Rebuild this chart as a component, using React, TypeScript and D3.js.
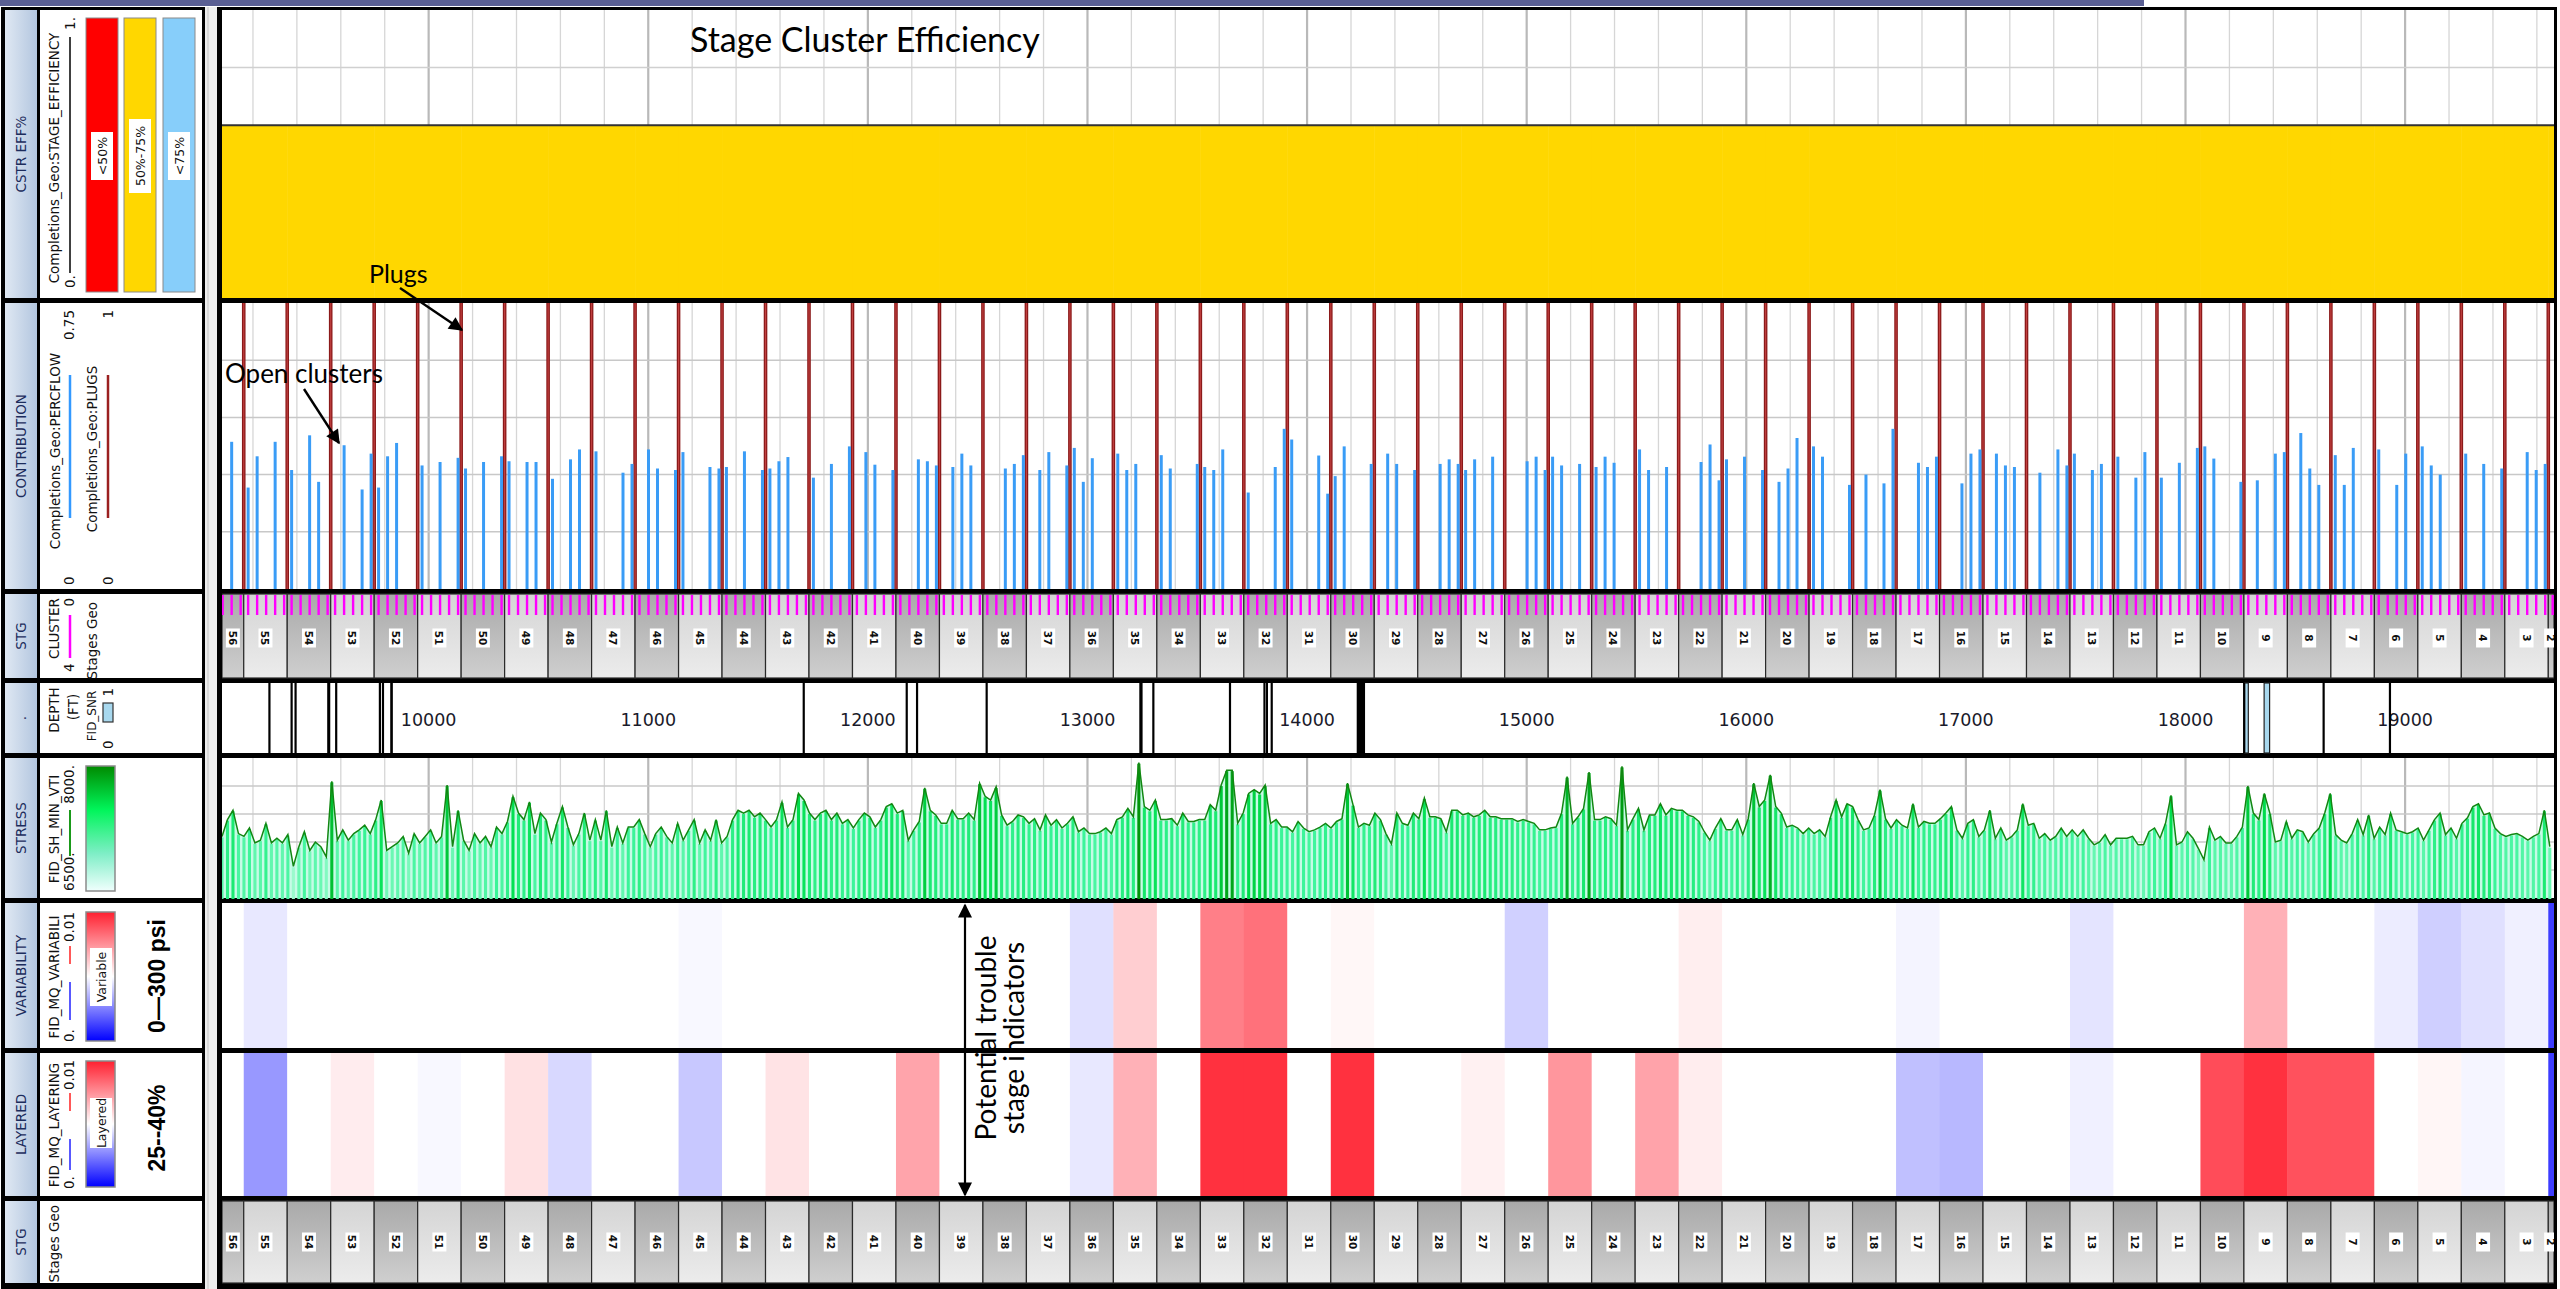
import React from "react";
import * as d3 from "d3";

// ---- data ----
const stageNames = [56, 55, 54, 53, 52, 51, 50, 49, 48, 47, 46, 45, 44, 43, 42, 41, 40, 39, 38, 37, 36, 35, 34, 33, 32, 31, 30, 29, 28, 27, 26, 25, 24, 23, 22, 21, 20, 19, 18, 17, 16, 15, 14, 13, 12, 11, 10, 9, 8, 7, 6, 5, 4, 3, 2];
// depth (ft) of the plug at the top of each stage
const stageTops = [8960, 9158, 9356, 9554, 9752, 9950, 10148, 10346, 10544, 10742, 10940, 11138, 11336, 11534, 11732, 11930, 12128, 12326, 12524, 12722, 12920, 13118, 13316, 13514, 13712, 13910, 14108, 14306, 14504, 14702, 14900, 15098, 15296, 15494, 15692, 15890, 16088, 16286, 16484, 16682, 16880, 17078, 17276, 17474, 17672, 17870, 18068, 18266, 18464, 18662, 18860, 19058, 19256, 19454, 19652];
const stageBase = 19850;
const clusterOffsets = [20, 61, 102, 143, 184]; // ft below the plug

const stageEfficiency = [0.6, 0.6, 0.6, 0.6, 0.6, 0.6, 0.6, 0.6, 0.6, 0.6, 0.6, 0.6, 0.6, 0.6, 0.6, 0.6, 0.6, 0.6, 0.6, 0.6, 0.6, 0.6, 0.6, 0.6, 0.6, 0.6, 0.6, 0.6, 0.6, 0.6, 0.6, 0.6, 0.6, 0.6, 0.6, 0.6, 0.6, 0.6, 0.6, 0.6, 0.6, 0.6, 0.6, 0.6, 0.6, 0.6, 0.6, 0.6, 0.6, 0.6, 0.6, 0.6, 0.6, 0.6, 0.6];

// PERCFLOW per cluster (0 = closed), stage 56 -> 2
const clusterFlow = [
  [0, 0, 0, 0.386, 0], [0.266, 0.348, 0, 0.386, 0], [0.312, 0, 0.403, 0.281, 0], [0, 0.377, 0, 0.261, 0.355],
  [0.266, 0.348, 0.383, 0, 0], [0.324, 0, 0.333, 0, 0.344], [0.316, 0, 0.333, 0, 0.348], [0.335, 0, 0.333, 0.333, 0],
  [0.289, 0, 0.34, 0.366, 0], [0.361, 0, 0, 0.305, 0.328], [0, 0.366, 0.316, 0, 0.312], [0.359, 0, 0, 0.32, 0.316],
  [0.32, 0, 0.361, 0, 0.312], [0.316, 0.335, 0.346, 0, 0], [0.292, 0, 0.328, 0, 0.374], [0, 0.359, 0.326, 0, 0.312],
  [0, 0, 0.34, 0.335, 0.324], [0, 0.32, 0.355, 0.324, 0], [0, 0, 0.316, 0.328, 0.351], [0, 0.312, 0.359, 0, 0.324],
  [0.37, 0.281, 0.343, 0, 0], [0.355, 0.312, 0.328, 0, 0], [0.351, 0.316, 0, 0, 0.328], [0.32, 0.312, 0.366, 0, 0],
  [0.253, 0, 0, 0.32, 0.42], [0.392, 0, 0, 0.35, 0.25], [0.296, 0.374, 0, 0, 0.328], [0, 0.355, 0.328, 0, 0.312],
  [0, 0, 0.328, 0.34, 0.328], [0.312, 0.34, 0, 0.347, 0], [0, 0, 0.335, 0.347, 0.312], [0.347, 0.324, 0, 0.328, 0],
  [0.32, 0.347, 0.331, 0, 0], [0.366, 0.312, 0, 0.32, 0], [0, 0, 0.333, 0.379, 0.285], [0.34, 0, 0.347, 0, 0.312],
  [0, 0.281, 0.316, 0.396, 0], [0.374, 0.347, 0, 0, 0.273], [0, 0.3, 0, 0.277, 0.42], [0, 0, 0.331, 0.32, 0.347],
  [0, 0, 0.277, 0.355, 0.366], [0, 0.355, 0.324, 0.32, 0], [0, 0.305, 0, 0.366, 0.324], [0.355, 0, 0.312, 0.328, 0],
  [0.347, 0, 0.292, 0.359, 0], [0.292, 0, 0.331, 0, 0.37], [0.374, 0.342, 0, 0, 0.281], [0, 0.285, 0, 0.355, 0.359],
  [0, 0.409, 0.316, 0.273, 0], [0.351, 0.273, 0.37, 0, 0], [0.366, 0, 0.273, 0.355, 0], [0.374, 0.324, 0.3, 0, 0],
  [0.355, 0, 0.328, 0, 0.316], [0, 0, 0.359, 0.312, 0.328], [0, 0, 0, 0, 0],
];

const variability = [0.005, 0.00455, 0.005, 0.005, 0.005, 0.005, 0.005, 0.005, 0.005, 0.005, 0.005, 0.00486, 0.005, 0.005, 0.005, 0.005, 0.005, 0.005, 0.005, 0.005, 0.0044, 0.00608, 0.005, 0.0078, 0.0081, 0.005, 0.00518, 0.005, 0.005, 0.005, 0.00408, 0.005, 0.005, 0.005, 0.00537, 0.005, 0.005, 0.005, 0.005, 0.00478, 0.005, 0.005, 0.005, 0.00447, 0.005, 0.005, 0.005, 0.0067, 0.005, 0.005, 0.00463, 0.00406, 0.0044, 0.0047, 0.0012];
const layering = [0.005, 0.00298, 0.005, 0.00541, 0.005, 0.00486, 0.005, 0.00565, 0.00424, 0.005, 0.005, 0.00392, 0.005, 0.00561, 0.005, 0.005, 0.00698, 0.005, 0.005, 0.005, 0.00455, 0.0067, 0.005, 0.0095, 0.0095, 0.005, 0.0095, 0.005, 0.005, 0.0053, 0.005, 0.0073, 0.005, 0.007, 0.0054, 0.005, 0.005, 0.005, 0.005, 0.00376, 0.0036, 0.005, 0.005, 0.0047, 0.005, 0.005, 0.0089, 0.0095, 0.0088, 0.0088, 0.005, 0.0052, 0.0048, 0.005, 0.0012];

// FID_SH_MIN_VTI, psi, every 25 ft from 9059 ft
const stressTop = 9059;
const stressStep = 25;
const stress = [
  7160, 7340, 7440, 7190, 7160, 7250, 7090, 7120, 7300, 7090, 7140, 7090, 7180, 6840, 7050, 7210, 7010, 7100, 7050, 6940,
  7750, 7120, 7230, 7120, 7190, 7230, 7280, 7190, 7340, 7550, 7010, 7050, 7090, 7160, 6980, 7190, 7090, 7160, 7230, 7090,
  7160, 7710, 7050, 7440, 7120, 7010, 7190, 7090, 7160, 7050, 7260, 7190, 7320, 7590, 7410, 7340, 7530, 7190, 7410, 7340,
  7100, 7300, 7480, 7260, 7070, 7190, 7410, 7120, 7340, 7120, 7440, 7050, 7260, 7090, 7260, 7260, 7340, 7190, 7050, 7190,
  7260, 7160, 7090, 7300, 7120, 7230, 7340, 7090, 7230, 7120, 7340, 7090, 7160, 7340, 7440, 7410, 7440, 7370, 7410, 7340,
  7260, 7340, 7530, 7260, 7340, 7620, 7550, 7410, 7340, 7410, 7440, 7340, 7410, 7300, 7340, 7250, 7340, 7410, 7370, 7260,
  7340, 7480, 7510, 7410, 7440,
  7120, 7230, 7320, 7680, 7440, 7390, 7300, 7300, 7440, 7350, 7350, 7410, 7340, 7730, 7590, 7550, 7690, 7390, 7280, 7320,
  7390, 7370, 7300, 7350, 7230, 7390, 7280, 7340, 7250, 7300, 7370, 7210, 7250, 7190, 7190, 7210, 7250, 7190, 7340, 7370,
  7460, 7370, 7950, 7480, 7440, 7550, 7340, 7340, 7350, 7280, 7410, 7320, 7320, 7340, 7340, 7500, 7440, 7710, 7870, 7870,
  7300, 7410, 7620, 7660, 7620,
  7710, 7300, 7340, 7260, 7260, 7210, 7320, 7250, 7210, 7230, 7260, 7300, 7250, 7320, 7350, 7730, 7500, 7260, 7300, 7280,
  7410, 7340, 7190, 7080, 7410, 7300, 7280, 7410, 7350, 7570, 7370, 7370, 7350, 7210, 7440, 7440, 7390, 7410, 7370, 7390,
  7440, 7370, 7370, 7350, 7350, 7350, 7320, 7340, 7320, 7300, 7230, 7230, 7250, 7260, 7410, 7800, 7300, 7370, 7460, 7850,
  7340, 7340, 7370, 7350, 7280,
  7910, 7230, 7350, 7460, 7230, 7390, 7390, 7510, 7390, 7460, 7440, 7440, 7390, 7370, 7320, 7210, 7120, 7250, 7350, 7230,
  7230, 7340, 7180, 7350, 7730, 7480, 7550, 7820, 7480, 7410, 7260, 7280, 7250, 7190, 7250, 7190, 7230, 7160, 7370, 7550,
  7370, 7510, 7480, 7340, 7230, 7250, 7390, 7660, 7350, 7250, 7340, 7280, 7250, 7510, 7260, 7320, 7300, 7300, 7350, 7410,
  7480, 7230, 7140, 7300, 7340,
  7160, 7230, 7440, 7140, 7250, 7120, 7160, 7230, 7510, 7280, 7300, 7140, 7190, 7120, 7160, 7250, 7160, 7230, 7160, 7230,
  7140, 7070, 7100, 7180, 7070, 7140, 7140, 7140, 7160, 7070, 7070, 7210, 7250, 7140, 7300, 7600, 7070, 7100, 7210, 7140,
  7030, 6910, 7260, 7120, 7160, 7090, 7090, 7160, 7260, 7700, 7410, 7340, 7620, 7410, 7100, 7120, 7320, 7140, 7230, 7210,
  7100, 7190, 7250, 7410, 7620, 7180, 7120, 7090, 7190, 7340, 7180, 7390, 7140, 7260, 7180, 7410, 7230, 7210, 7190, 7210,
  7250, 7120, 7230, 7340, 7410, 7180, 7250, 7140, 7300, 7360, 7480, 7510, 7390, 7410, 7250, 7190, 7160, 7180, 7190, 7160,
  7120, 7160, 7190, 7440, 7050,
];

const depthLabels = [10000, 11000, 12000, 13000, 14000, 15000, 16000, 17000, 18000, 19000];
// FID_SNR intervals (ft)
const snrDark = [[9270, 9280], [9371, 9381], [9389, 9399], [9538, 9552], [9574, 9584], [9773, 9783], [9787, 9797], [9825, 9837], [11703, 11713], [12172, 12182], [12219, 12229], [12536, 12546], [13236, 13251], [13295, 13305], [13644, 13654], [13801, 13811], [13813, 13820], [13834, 13844], [14226, 14264], [18262, 18270], [18624, 18634], [18926, 18936]];
const snrLight = [[18270, 18286], [18358, 18383]];

const PANEL_FONT = "'DejaVu Sans', Verdana, sans-serif";
const NOTE_FONT = "Lato, 'Open Sans', sans-serif";

function VText({ x, y, anchor = "middle", size = 13.5, weight = "normal", fill = "#111", font = PANEL_FONT, children }: any) {
  return (
    <text transform={`translate(${x},${y}) rotate(-90)`} textAnchor={anchor} dominantBaseline="central"
      fontSize={size} fontWeight={weight} fill={fill} fontFamily={font}>{children}</text>
  );
}

function LabelBox({ x, y, w, h, text, size = 12.5 }: any) {
  return (
    <g>
      <rect x={x - w / 2} y={y - h / 2} width={w} height={h} fill="#fff" />
      <VText x={x} y={y} size={size}>{text}</VText>
    </g>
  );
}

const rows = [
  { name: "CSTR EFF%", y0: 10, y1: 298 },
  { name: "CONTRIBUTION", y0: 303, y1: 589 },
  { name: "STG", y0: 594, y1: 678 },
  { name: ".", y0: 683, y1: 753 },
  { name: "STRESS", y0: 758, y1: 898 },
  { name: "VARIABILITY", y0: 903, y1: 1048 },
  { name: "LAYERED", y0: 1053, y1: 1196 },
  { name: "STG", y0: 1201, y1: 1283 },
];

export default function App() {
  const X0 = 222, X1 = 2554;
  const x = d3.scaleLinear().domain([9059, 19678]).range([X0, X1]);
  const yEff = d3.scaleLinear().domain([0, 1]).range([298, 10]);
  const yFlow = d3.scaleLinear().domain([0, 0.75]).range([589, 303]);
  const yPlug = d3.scaleLinear().domain([0, 1]).range([589, 303]);
  const yStress = d3.scaleLinear().domain([6500, 8000]).range([898, 758]);
  const heat = d3.scaleLinear<string>().domain([0, 0.005, 0.01]).range(["#0000ff", "#ffffff", "#ff1a2a"]).clamp(true);
  const stressColor = d3.scaleLinear<string>().domain([8000, 7600, 7250, 6500])
    .range(["#008a00", "#00e050", "#3cf59a", "#e8fff8"]).clamp(true);
  const effColor = (v: number) => (v < 0.5 ? "#ff0000" : v <= 0.75 ? "#ffd700" : "#87cefa");

  const stages = stageNames.map((n, i) => ({
    n, i, top: stageTops[i], base: i + 1 < stageTops.length ? stageTops[i + 1] : stageBase,
  }));
  const cx = (v: number) => Math.max(X0, Math.min(X1, v));
  const grid = d3.range(9200, 19678, 200);

  const gridV = (y0: number, y1: number) =>
    grid.map((d) => (
      <line key={d} x1={x(d)} x2={x(d)} y1={y0} y2={y1}
        stroke={d % 1000 === 0 ? "#b9b9b9" : "#d6d6d6"} strokeWidth={d % 1000 === 0 ? 2.2 : 1.3} />
    ));

  const effLine = d3.line<any>().x((p) => p[0]).y((p) => p[1])(
    stages.flatMap((s) => [[x(s.top), yEff(stageEfficiency[s.i])], [x(s.base), yEff(stageEfficiency[s.i])]])
  );
  const sx = (i: number) => x(stressTop + i * stressStep);
  const stressLine = d3.line<number>().x((_, i) => sx(i)).y((v) => yStress(v))(stress);
  const stressArea = d3.area<number>().x((_, i) => sx(i)).y0(yStress(6500)).y1((v) => yStress(v))(stress);
  const barW = x(stressTop + stressStep) - x(stressTop);

  const stageTrack = (y0: number, y1: number, ticks: boolean) => (
    <g>
      {stages.map((s) => {
        const a = cx(x(s.top)), b = cx(x(s.base));
        if (b - a <= 0) return null;
        return (
          <rect key={s.n} x={a} y={y0} width={b - a} height={y1 - y0}
            fill={s.n % 2 === 0 ? "url(#stgDark)" : "url(#stgLight)"} stroke="#2a2a2a" strokeWidth={1.2} />
        );
      })}
      {ticks && stages.flatMap((s) => clusterOffsets.map((o, c) => (
        <line key={s.n + "-" + c} x1={x(s.top + o)} x2={x(s.top + o)} y1={y0 + 1} y2={y0 + 21}
          stroke="#ff00ff" strokeWidth={2.4} />
      )))}
      {stages.map((s) => {
        const a = cx(x(s.top)), b = cx(x(s.base));
        if (b - a < 3) return null;
        const m = (a + b) / 2;
        const ym = (y0 + y1) / 2 + (ticks ? 2 : 0);
        return (
          <g key={"l" + s.n}>
            <rect x={m - 7} y={ym - 9.5} width={14} height={19} fill="#fff" />
            <text transform={`translate(${m},${ym}) rotate(90)`} textAnchor="middle" dominantBaseline="central"
              fontSize={10.5} fontWeight="bold" fontFamily={PANEL_FONT} fill="#111">{s.n}</text>
          </g>
        );
      })}
    </g>
  );

  return (
    <svg width={2560} height={1289} style={{ position: "absolute", left: 0, top: 0, display: "block", background: "#fff" }}>
      <defs>
        <linearGradient id="hdr" x1="0" x2="1" y1="0" y2="0">
          <stop offset="0" stopColor="#dfe8f3" />
          <stop offset="1" stopColor="#b3c6df" />
        </linearGradient>
        <linearGradient id="stgDark" x1="0" x2="0" y1="0" y2="1">
          <stop offset="0" stopColor="#a9a9a9" />
          <stop offset="1" stopColor="#cfcfcf" />
        </linearGradient>
        <linearGradient id="stgLight" x1="0" x2="0" y1="0" y2="1">
          <stop offset="0" stopColor="#d4d4d4" />
          <stop offset="1" stopColor="#ececec" />
        </linearGradient>
        <linearGradient id="stressLeg" x1="0" x2="0" y1="0" y2="1">
          <stop offset="0" stopColor="#008a00" />
          <stop offset="0.35" stopColor="#00f55a" />
          <stop offset="0.7" stopColor="#7eeec6" />
          <stop offset="1" stopColor="#f0fffd" />
        </linearGradient>
        <linearGradient id="heatLeg" x1="0" x2="0" y1="0" y2="1">
          <stop offset="0" stopColor="#ff2030" />
          <stop offset="0.5" stopColor="#ffffff" />
          <stop offset="1" stopColor="#0000ff" />
        </linearGradient>
        <clipPath id="plot">
          <rect x={X0} y={0} width={X1 - X0} height={1289} />
        </clipPath>
        <marker id="arr" viewBox="0 0 10 10" refX="9" refY="5" markerWidth="16" markerHeight="14"
          markerUnits="userSpaceOnUse" orient="auto-start-reverse">
          <path d="M0,0 L10,5 L0,10 z" fill="#000" />
        </marker>
      </defs>

      {/* top band */}
      <rect x={0} y={0} width={2144} height={6} fill="#5a5f93" />

      {/* ---------- left legend panel ---------- */}
      <rect x={1} y={7} width={204} height={1282} fill="#000" />
      {rows.map((r, i) => (
        <g key={i}>
          <rect x={5} y={r.y0} width={32} height={r.y1 - r.y0} fill="url(#hdr)" />
          <rect x={40} y={r.y0} width={162} height={r.y1 - r.y0} fill="#fff" />
          <VText x={21} y={(r.y0 + r.y1) / 2} size={13.5} fill="#1c2c5c">{r.name}</VText>
        </g>
      ))}
      <rect x={205} y={7} width={12} height={1282} fill="#eeeeee" />
      <line x1={208} x2={208} y1={7} y2={1289} stroke="#d2d2d2" strokeWidth={1.5} />

      {/* CSTR EFF% legend */}
      <VText x={54} y={158}>Completions_Geo:STAGE_EFFICIENCY</VText>
      <VText x={70} y={288} anchor="start">0.</VText>
      <line x1={70} x2={70} y1={37} y2={273} stroke="#000" strokeWidth={1.5} />
      <VText x={70} y={17} anchor="end">1.</VText>
      {[["#ff0000", 86, "<50%"], ["#ffd700", 124, "50%-75%"], ["#87cefa", 163, "<75%"]].map(([c, bx, t]: any) => (
        <g key={t}>
          <rect x={bx} y={18} width={32} height={274} fill={c} stroke="#8a8a8a" strokeWidth={1} />
          <LabelBox x={bx + 16} y={156} w={22} h={t.length > 5 ? 74 : 48} text={t} size={12.5} />
        </g>
      ))}

      {/* CONTRIBUTION legend */}
      <VText x={55} y={451}>Completions_Geo:PERCFLOW</VText>
      <VText x={69} y={585} anchor="start">0</VText>
      <line x1={70} x2={70} y1={375} y2={518} stroke="#3399ff" strokeWidth={2.5} />
      <VText x={69} y={310} anchor="end">0.75</VText>
      <VText x={92} y={449}>Completions_Geo:PLUGS</VText>
      <VText x={108} y={585} anchor="start">0</VText>
      <line x1={108} x2={108} y1={375} y2={518} stroke="#9b2020" strokeWidth={2.5} />
      <VText x={108} y={310} anchor="end">1</VText>

      {/* STG legend */}
      <VText x={54} y={598} anchor="end">CLUSTER</VText>
      <VText x={69} y={672} anchor="start">4</VText>
      <line x1={70} x2={70} y1={615} y2={658} stroke="#ff00ff" strokeWidth={2.5} />
      <VText x={69} y={598} anchor="end">0</VText>
      <VText x={92} y={602} anchor="end">Stages Geo</VText>

      {/* DEPTH legend */}
      <VText x={54} y={710}>DEPTH</VText>
      <VText x={73} y={707}>(FT)</VText>
      <VText x={92} y={716} size={12}>FID_SNR</VText>
      <VText x={108} y={749} anchor="start">0</VText>
      <rect x={103} y={703} width={10} height={19} fill="#a8d8ee" stroke="#333" strokeWidth={1.2} />
      <VText x={108} y={688} anchor="end">1</VText>

      {/* STRESS legend */}
      <VText x={54} y={829}>FID_SH_MIN_VTI</VText>
      <VText x={69} y={891} anchor="start">6500.</VText>
      <line x1={70} x2={70} y1={810} y2={856} stroke="#1a9a1a" strokeWidth={2} />
      <VText x={69} y={765} anchor="end">8000.</VText>
      <rect x={86} y={766} width={29} height={125} fill="url(#stressLeg)" stroke="#8a8a8a" strokeWidth={1.5} />

      {/* VARIABILITY legend */}
      <VText x={54} y={977}>FID_MQ_VARIABILI</VText>
      <VText x={69} y={1042} anchor="start">0.</VText>
      <line x1={70} x2={70} y1={982} y2={1020} stroke="#2020ff" strokeWidth={1.5} />
      <line x1={70} x2={70} y1={946} y2={964} stroke="#ff2020" strokeWidth={1.5} />
      <VText x={69} y={912} anchor="end">0.01</VText>
      <rect x={86} y={912} width={29} height={129} fill="url(#heatLeg)" stroke="#8a8a8a" strokeWidth={1.5} />
      <LabelBox x={101} y={977} w={22} h={58} text="Variable" size={12.5} />
      <VText x={157} y={976} size={23} weight="bold" font="'Liberation Sans', Arial, sans-serif" fill="#000">0—300 psi</VText>

      {/* LAYERED legend */}
      <VText x={54} y={1125}>FID_MQ_LAYERING</VText>
      <VText x={69} y={1189} anchor="start">0.</VText>
      <line x1={70} x2={70} y1={1139} y2={1170} stroke="#2020ff" strokeWidth={1.5} />
      <line x1={70} x2={70} y1={1093} y2={1111} stroke="#ff2020" strokeWidth={1.5} />
      <VText x={69} y={1060} anchor="end">0.01</VText>
      <rect x={86} y={1061} width={29} height={126} fill="url(#heatLeg)" stroke="#8a8a8a" strokeWidth={1.5} />
      <LabelBox x={101} y={1123} w={22} h={50} text="Layered" size={12.5} />
      <VText x={157} y={1128} size={23} weight="bold" font="'Liberation Sans', Arial, sans-serif" fill="#000">25--40%</VText>

      {/* STG legend (bottom) */}
      <VText x={54} y={1205} anchor="end">Stages Geo</VText>

      {/* ---------- main plot ---------- */}
      <rect x={217} y={7} width={2340} height={1282} fill="#000" />
      {rows.map((r, i) => (
        <rect key={i} x={X0} y={r.y0} width={X1 - X0} height={r.y1 - r.y0} fill="#fff" />
      ))}

      <g clipPath="url(#plot)">
        {/* CSTR EFF% */}
        {gridV(10, 298)}
        <line x1={X0} x2={X1} y1={yEff(0.8)} y2={yEff(0.8)} stroke="#d0d0d0" strokeWidth={1.5} />
        {stages.map((s) => (
          <rect key={s.n} x={x(s.top)} y={yEff(stageEfficiency[s.i])} width={x(s.base) - x(s.top) + 0.5}
            height={yEff(0) - yEff(stageEfficiency[s.i])} fill={effColor(stageEfficiency[s.i])} />
        ))}
        <path d={effLine || ""} fill="none" stroke="#333" strokeWidth={2} />

        {/* CONTRIBUTION */}
        {gridV(303, 589)}
        {[0.15, 0.3, 0.45, 0.6].map((v) => (
          <line key={v} x1={X0} x2={X1} y1={yFlow(v)} y2={yFlow(v)} stroke="#c8c8c8" strokeWidth={1.5} />
        ))}
        {stages.map((s) => (
          <g key={s.n}>
            <line x1={x(s.top)} x2={x(s.top)} y1={yPlug(0)} y2={yPlug(1)} stroke="#8b1a1a" strokeWidth={3.6} />
            <line x1={x(s.top)} x2={x(s.top)} y1={yPlug(0)} y2={yPlug(1)} stroke="#c24141" strokeWidth={1.1} />
          </g>
        ))}
        {stages.flatMap((s) => clusterFlow[s.i].map((v, c) => v > 0 ? (
          <line key={s.n + "-" + c} x1={x(s.top + clusterOffsets[c])} x2={x(s.top + clusterOffsets[c])}
            y1={yFlow(0)} y2={yFlow(v)} stroke="#3a9cf6" strokeWidth={3} />
        ) : null))}

        {/* STG with clusters */}
        {stageTrack(594, 678, true)}

        {/* DEPTH */}
        {depthLabels.map((d) => (
          <text key={d} x={x(d)} y={726} textAnchor="middle" fontSize={17.5} fontFamily={PANEL_FONT} fill="#1a1a2a">{d}</text>
        ))}
        {snrLight.map(([a, b], i) => (
          <rect key={"sl" + i} x={x(a)} y={683} width={x(b) - x(a)} height={70} fill="#a8d8ee" stroke="#222" strokeWidth={1.2} />
        ))}
        {snrDark.map(([a, b], i) => (
          <rect key={"sd" + i} x={x(a)} y={683} width={Math.max(2, x(b) - x(a))} height={70} fill="#000" />
        ))}

        {/* STRESS */}
        {gridV(758, 898)}
        {[6800, 7100, 7400, 7700].map((v) => (
          <line key={v} x1={X0} x2={X1} y1={yStress(v)} y2={yStress(v)} stroke="#c8c8c8" strokeWidth={1.5} />
        ))}
        <path d={stressArea || ""} fill="#c6fbe6" />
        {stress.map((v, i) => (
          <rect key={i} x={sx(i) - barW * 0.28} y={yStress(v) + 1} width={barW * 0.56}
            height={yStress(6500) - yStress(v)} fill={stressColor(v)} />
        ))}
        <path d={stressLine || ""} fill="none" stroke="#128712" strokeWidth={1.5} />

        {/* VARIABILITY / LAYERED heat strips */}
        {stages.map((s) => (
          <rect key={"v" + s.n} x={x(s.top)} y={903} width={x(s.base) - x(s.top) + 0.4} height={145} fill={heat(variability[s.i])} />
        ))}
        {stages.map((s) => (
          <rect key={"y" + s.n} x={x(s.top)} y={1053} width={x(s.base) - x(s.top) + 0.4} height={143} fill={heat(layering[s.i])} />
        ))}

        {/* STG bottom */}
        {stageTrack(1201, 1283, false)}
      </g>

      {/* annotations */}
      <text x={690} y={52} fontSize={34} fontFamily={NOTE_FONT} fill="#000">Stage Cluster Efficiency</text>
      <text x={369} y={283} fontSize={25} fontFamily={NOTE_FONT} fill="#000">Plugs</text>
      <line x1={400} y1={288} x2={462} y2={330} stroke="#000" strokeWidth={2.4} markerEnd="url(#arr)" />
      <text x={225} y={383} fontSize={26} fontFamily={NOTE_FONT} fill="#000">Open clusters</text>
      <line x1={304} y1={389} x2={339} y2={443} stroke="#000" strokeWidth={2.4} markerEnd="url(#arr)" />
      <line x1={965} y1={905} x2={965} y2={1195} stroke="#000" strokeWidth={2.2}
        markerStart="url(#arr)" markerEnd="url(#arr)" />
      <VText x={985} y={1038} size={28} font={NOTE_FONT} fill="#000">Potential trouble</VText>
      <VText x={1013} y={1038} size={28} font={NOTE_FONT} fill="#000">stage indicators</VText>
    </svg>
  );
}
